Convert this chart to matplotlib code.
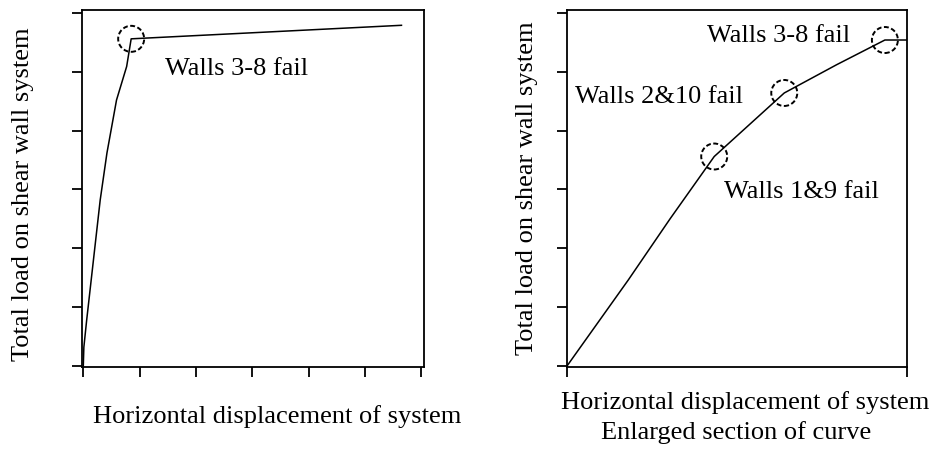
import numpy as np
import matplotlib
matplotlib.use('Agg')
import matplotlib.pyplot as plt
from matplotlib.patches import Circle
from matplotlib.transforms import ScaledTranslation

# full load-displacement curve (left) and enlarged section (right)
full_disp = [0, 0.01, 0.06, 0.18, 0.30, 0.42, 0.59, 0.77, 0.85, 5.65]
full_load = [0, 0.32, 0.78, 1.80, 2.82, 3.62, 4.52, 5.09, 5.56, 5.79]
full_fail_disp = [0.85]
full_fail_load = [5.56]
full_fail_text = ['Walls 3-8 fail']

zoom_disp = [0, 0.18, 0.303, 0.433, 0.639, 0.793, 0.935, 1.0]
zoom_load = [0, 1.46, 2.50, 3.56, 4.64, 5.12, 5.54, 5.54]
zoom_fail_disp = [0.433, 0.639, 0.935]
zoom_fail_load = [3.56, 4.64, 5.54]
zoom_fail_text = ['Walls 1&9 fail', 'Walls 2&10 fail', 'Walls 3-8 fail']

plt.rcParams['font.family'] = ['Liberation Serif', 'DejaVu Serif']
FS = 19

W, H = 940, 451
fig = plt.figure(figsize=(W/100, H/100), dpi=100)

def px_axes(l, r, t, b):
    return fig.add_axes([l/W, (H-b)/H, (r-l)/W, (b-t)/H])

def style(ax):
    for s in ax.spines.values():
        s.set_linewidth(1.3)
    ax.tick_params(direction='out', length=7.5, width=1.3,
                   labelbottom=False, labelleft=False)

def ring(ax, x, y):
    # dashed circle of fixed size on screen
    tr = fig.dpi_scale_trans + ScaledTranslation(x, y, ax.transData)
    ax.add_patch(Circle((0, 0), 0.13, transform=tr, fill=False,
                        ec='black', lw=1.4, ls=(0, (2.5, 1.3)), clip_on=False))

# left panel
ax1 = px_axes(82, 424, 10, 367)
ax1.plot(full_disp, full_load, color='black', lw=1.1)
for x, y in zip(full_fail_disp, full_fail_load):
    ring(ax1, x, y)
ax1.annotate(full_fail_text[0], (full_fail_disp[0], full_fail_load[0]),
             xytext=(34, -30), textcoords='offset pixels',
             ha='left', va='center', fontsize=FS)
ax1.set_xlim(-0.023, 6.05)
ax1.set_ylim(-0.017, 6.05)
ax1.set_xticks(range(7))
ax1.set_yticks(range(7))
style(ax1)

# right panel
ax2 = px_axes(567, 907, 10, 367)
ax2.plot(zoom_disp, zoom_load, color='black', lw=1.1)
for x, y in zip(zoom_fail_disp, zoom_fail_load):
    ring(ax2, x, y)
offsets = [((10, -35), 'left'), ((-41, -4), 'right'), ((-35, 4), 'right')]
for (x, y), t, (off, ha) in zip(zip(zoom_fail_disp, zoom_fail_load),
                                zoom_fail_text, offsets):
    ax2.annotate(t, (x, y), xytext=off, textcoords='offset pixels',
                 ha=ha, va='center', fontsize=FS)
ax2.set_xlim(0, 1)
ax2.set_ylim(-0.017, 6.05)
ax2.set_xticks([0, 1])
ax2.set_yticks(range(7))
style(ax2)

# axis labels
fig.text(277/W, 1-417/H, 'Horizontal displacement of system',
         ha='center', va='center', fontsize=FS)
fig.text(23/W, 1-194/H, 'Total load on shear wall system',
         ha='center', va='center', rotation=90, fontsize=FS)
fig.text(745/W, 1-403/H, 'Horizontal displacement of system',
         ha='center', va='center', fontsize=FS)
fig.text(736/W, 1-433/H, 'Enlarged section of curve',
         ha='center', va='center', fontsize=FS)
fig.text(527/W, 1-188/H, 'Total load on shear wall system',
         ha='center', va='center', rotation=90, fontsize=FS)

fig.savefig('out.png', dpi=100, facecolor='white')
